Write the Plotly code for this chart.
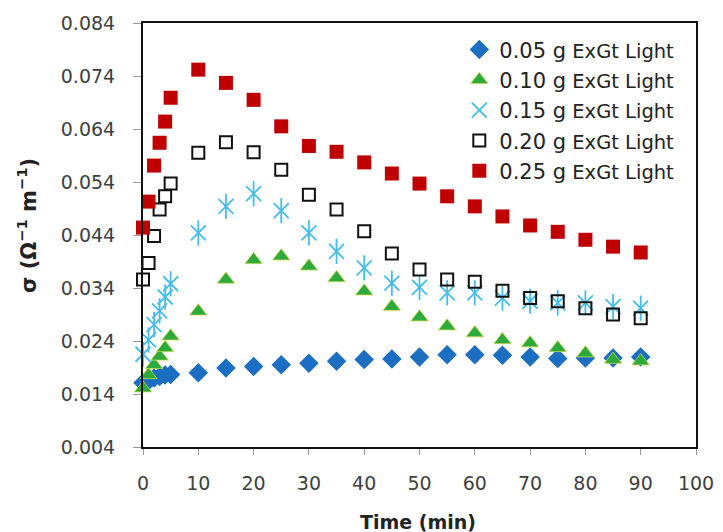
import plotly.graph_objects as go

time = [0, 1, 2, 3, 4, 5, 10, 15, 20, 25, 30, 35, 40, 45, 50, 55, 60, 65, 70, 75, 80, 85, 90]

s005 = [0.0161, 0.0165, 0.0170, 0.0173, 0.0176, 0.0177, 0.0180, 0.0189, 0.0192, 0.0195, 0.0198, 0.0202,
        0.0205, 0.0206, 0.0210, 0.0214, 0.0214, 0.0213, 0.0210, 0.0207, 0.0208, 0.0208, 0.0210]
s010 = [0.0151, 0.0176, 0.0195, 0.0211, 0.0227, 0.0249, 0.0296, 0.0356, 0.0393, 0.0400, 0.0381, 0.0359,
        0.0334, 0.0305, 0.0285, 0.0268, 0.0255, 0.0242, 0.0236, 0.0227, 0.0217, 0.0205, 0.0202]
s015 = [0.0215, 0.0242, 0.0271, 0.0297, 0.0323, 0.0348, 0.0444, 0.0494, 0.0518, 0.0486, 0.0444, 0.0409,
        0.0378, 0.0349, 0.0341, 0.0331, 0.0331, 0.0321, 0.0315, 0.0312, 0.0312, 0.0305, 0.0302]
s020 = [0.0356, 0.0387, 0.0438, 0.0488, 0.0513, 0.0537, 0.0595, 0.0615, 0.0596, 0.0563, 0.0516, 0.0488,
        0.0447, 0.0405, 0.0375, 0.0356, 0.0352, 0.0335, 0.0321, 0.0315, 0.0302, 0.0290, 0.0283]
s025 = [0.0454, 0.0503, 0.0571, 0.0614, 0.0654, 0.0699, 0.0752, 0.0727, 0.0695, 0.0645, 0.0608, 0.0597,
        0.0577, 0.0556, 0.0537, 0.0513, 0.0494, 0.0475, 0.0458, 0.0446, 0.0431, 0.0418, 0.0407]

labels = ["0.05", "0.10", "0.15", "0.20", "0.25"]
y_ticks = [0.004, 0.014, 0.024, 0.034, 0.044, 0.054, 0.064, 0.074, 0.084]
x_ticks = [0, 10, 20, 30, 40, 50, 60, 70, 80, 90, 100]
x_title = "<b>Time (min)</b>"
y_title = "<b>σ (Ω<sup>−1</sup> m<sup>−1</sup>)</b>"

FONT = "DejaVu Sans, sans-serif"


def name(lbl):
    return f'<span style="font-size:21px">{lbl} g</span><span style="font-size:19.5px"> ExGt Light</span>'


fig = go.Figure()
fig.add_trace(go.Scatter(x=time, y=s005, mode="markers", name=name(labels[0]), cliponaxis=False,
                         marker=dict(symbol="diamond", size=15, color="#1B6EC2")))
fig.add_trace(go.Scatter(x=time, y=s010, mode="markers", name=name(labels[1]), cliponaxis=False,
                         marker=dict(symbol="triangle-up", size=15, color="#2DAA3C",
                                     line=dict(color="#C8D84A", width=0.8))))
fig.add_trace(go.Scatter(x=time, y=s015, mode="markers", name=name(labels[2]), cliponaxis=False,
                         legendgroup="g15",
                         marker=dict(symbol="x-thin-open", size=15, color="#45BDEB",
                                     line=dict(color="#45BDEB", width=1.8))))
fig.add_trace(go.Scatter(x=time, y=s015, mode="markers", showlegend=False, cliponaxis=False,
                         legendgroup="g15", hoverinfo="skip",
                         marker=dict(symbol="line-ns-open", size=18, color="#45BDEB",
                                     line=dict(color="#45BDEB", width=1.8))))
fig.add_trace(go.Scatter(x=time, y=s020, mode="markers", name=name(labels[3]), cliponaxis=False,
                         marker=dict(symbol="square-open", size=12, color="#111111",
                                     line=dict(color="#111111", width=2))))
fig.add_trace(go.Scatter(x=time, y=s025, mode="markers", name=name(labels[4]), cliponaxis=False,
                         marker=dict(symbol="square", size=14, color="#C00000")))

axis_font = dict(family=FONT, size=19, color="#404040")

fig.update_layout(
    width=723, height=532,
    margin=dict(l=143, r=27, t=23, b=85),
    paper_bgcolor="white", plot_bgcolor="white",
    showlegend=True,
    legend=dict(x=0.572, y=0.985, xanchor="left", yanchor="top",
                font=dict(family=FONT, size=21, color="#222222"),
                bgcolor="rgba(255,255,255,0)", tracegroupgap=0, itemwidth=30),
    xaxis=dict(range=[0, 100], tickvals=x_ticks, ticktext=[str(v) for v in x_ticks],
               showgrid=False, zeroline=False, showline=True, linecolor="#111111", linewidth=2,
               mirror=True, ticks="outside", ticklen=6, tickcolor="#999999", tickwidth=1,
               tickfont=axis_font, ticklabelstandoff=12, automargin=False),
    yaxis=dict(range=[0.004, 0.084], tickvals=y_ticks, ticktext=[f"{v:.3f}" for v in y_ticks],
               showgrid=False, zeroline=False, showline=True, linecolor="#111111", linewidth=2,
               mirror=True, ticks="outside", ticklen=8, tickcolor="#999999", tickwidth=1,
               tickfont=axis_font, ticklabelstandoff=14, automargin=False),
    annotations=[
        dict(text=x_title, xref="paper", yref="paper", x=(418 - 143) / 553, y=-(522 - 447) / 424,
             xanchor="center", yanchor="middle", showarrow=False,
             font=dict(family=FONT, size=19, color="#222222")),
        dict(text=y_title, xref="paper", yref="paper", x=-(143 - 27) / 553, y=(447 - 226) / 424,
             xanchor="center", yanchor="middle", showarrow=False, textangle=-90,
             font=dict(family=FONT, size=21, color="#222222")),
    ],
)

fig.write_html("out.html")
